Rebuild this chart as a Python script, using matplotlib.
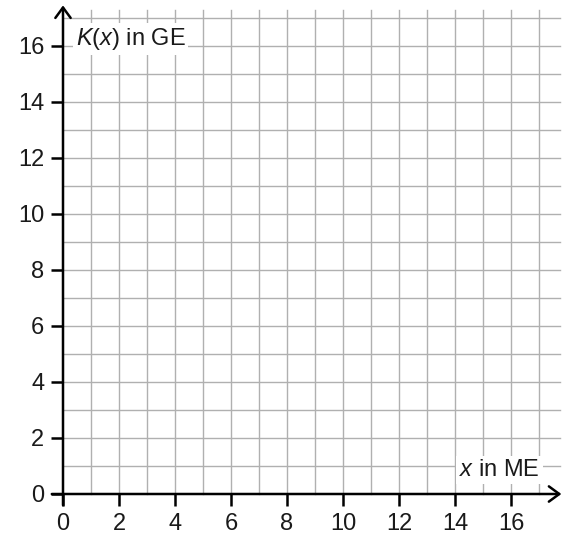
import matplotlib
matplotlib.use("Agg")
import matplotlib.pyplot as plt
import numpy as np

plt.rcParams['font.family'] = ['Liberation Sans', 'DejaVu Sans']
plt.rcParams['mathtext.fontset'] = 'custom'
plt.rcParams['mathtext.rm'] = 'Liberation Sans'
plt.rcParams['mathtext.it'] = 'Liberation Sans:italic'

x_ticks = [0, 2, 4, 6, 8, 10, 12, 14, 16]
y_ticks = [0, 2, 4, 6, 8, 10, 12, 14, 16]
grid_x = list(range(1, 18))
grid_y = list(range(1, 18))
x_max = 17.8
y_max = 17.4

W, H = 563, 535
fig = plt.figure(figsize=(W / 100, H / 100), dpi=100)
u = 28.0
ax = fig.add_axes([63 / W, 41 / H, x_max * u / W, y_max * u / H])
ax.set_xlim(0, x_max)
ax.set_ylim(0, y_max)
for s in ax.spines.values():
    s.set_visible(False)

gc = '#b0b0b0'
for gx in grid_x:
    ax.plot([gx, gx], [0, 17.3], color=gc, lw=1.0, zorder=1, clip_on=False)
for gy in grid_y:
    ax.plot([0, 17.75], [gy, gy], color=gc, lw=1.0, zorder=1, clip_on=False)

astyle = '->,head_length=0.75,head_width=0.55'
ax.annotate('', xy=(x_max, 0), xytext=(-0.4, 0),
            arrowprops=dict(arrowstyle=astyle, lw=1.8, color='black',
                            shrinkA=0, shrinkB=0), annotation_clip=False, zorder=5)
ax.annotate('', xy=(0, y_max + 0.05), xytext=(0, -0.4),
            arrowprops=dict(arrowstyle=astyle, lw=1.8, color='black',
                            shrinkA=0, shrinkB=0), annotation_clip=False, zorder=5)

ax.set_xticks(x_ticks)
ax.set_yticks(y_ticks)
ax.set_xticklabels([str(t) for t in x_ticks])
ax.set_yticklabels([str(t) for t in y_ticks])
ax.tick_params(axis='both', length=8.5, width=1.8, color='black', labelsize=17,
               labelcolor='#1a1a1a', direction='out')
ax.tick_params(axis='x', pad=5)
ax.tick_params(axis='y', pad=5)

ax.text(0.45, 16.25, r'$K$($x$) in GE', fontsize=17, ha='left', va='center', zorder=6,
        color='#1a1a1a', bbox=dict(facecolor='white', edgecolor='none', pad=2))
ax.text(14.15, 0.85, r'$x$ in ME', fontsize=17, ha='left', va='center', zorder=6,
        color='#1a1a1a', bbox=dict(facecolor='white', edgecolor='none', pad=2))

fig.savefig('out.png', dpi=100)
